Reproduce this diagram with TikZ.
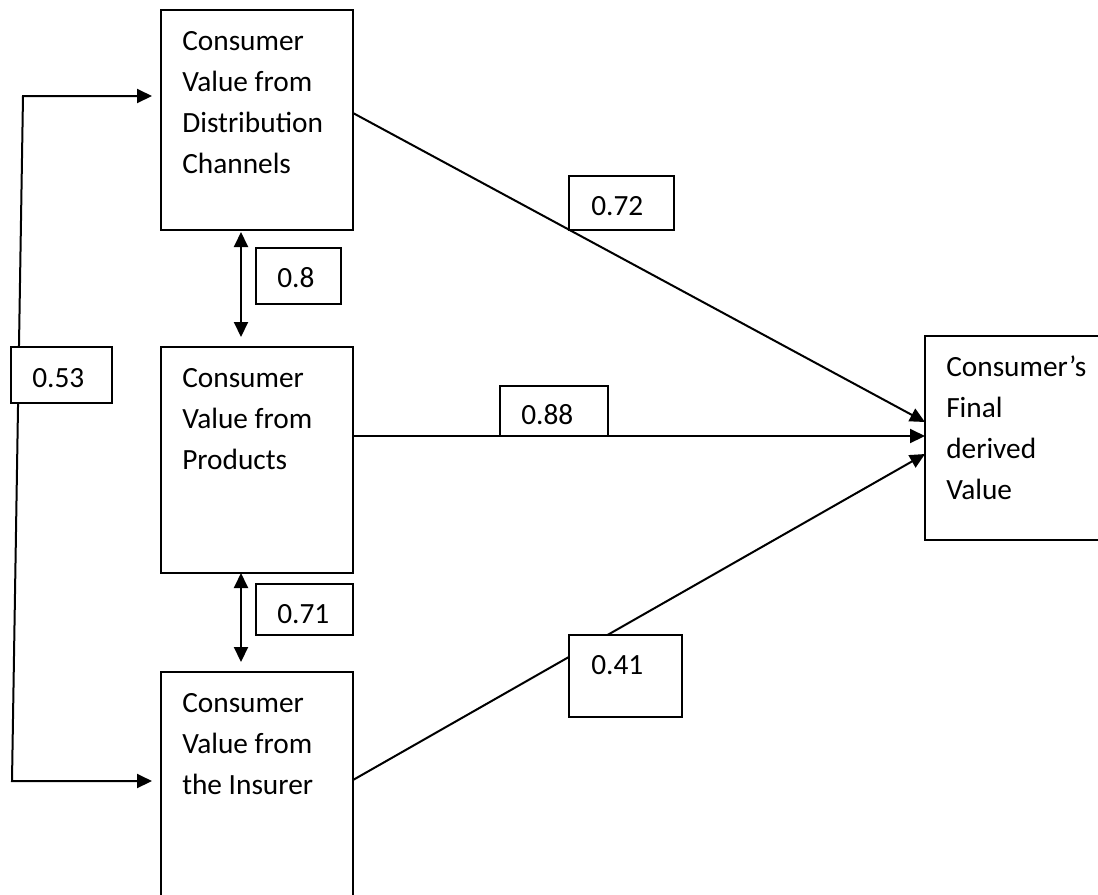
\documentclass[tikz,border=0pt]{standalone}
\usepackage{fontspec}
\setmainfont{Carlito}
\usetikzlibrary{arrows.meta,calc}
\begin{document}
\begin{tikzpicture}[x=0.75pt,y=-0.75pt,
  box/.style={draw,line width=1.5pt,rectangle,anchor=north west,inner sep=0pt,outer sep=0pt,fill=white},
  txt/.style={anchor=base west,inner sep=0pt,align=left,font=\fontsize{22pt}{30.75pt}\selectfont},
  conn/.style={line width=1.5pt},
  tip/.tip={Triangle[length=11.25pt,width=10.5pt]}
  ]
\useasboundingbox (0,0) rectangle (1098,894);
\begin{scope}
\clip (0,0) rectangle (1098,894);
% main boxes
\node[box,minimum width=144pt,minimum height=165pt] (b1) at (161,10) {};
\node[box,minimum width=144pt,minimum height=169.5pt] (b2) at (161,347) {};
\node[box,minimum width=144pt,minimum height=186pt] (b3) at (161,672) {};
\node[box,minimum width=138.75pt,minimum height=153pt] (b4) at (925,336) {};
% text (anchor base = baseline of the last line)
\node[txt] (t1) at (182,173) {Consumer\\Value from\\Distribution\\Channels};
\node[txt] (t2) at (182,469) {Consumer\\Value from\\Products};
\node[txt] (t3) at (182,794) {Consumer\\Value from\\the Insurer};
\node[txt] (t4) at (946,499) {Consumer’s\\Final\\derived\\Value};
% connectors
\coordinate (c1) at (23,96);
\coordinate (c2) at (12,781);
\draw[conn,tip-tip,shorten <=6.75pt,shorten >=6.75pt]
  ([yshift=-64.5pt]b1.north west) -- (c1) -- (c2) -- ([yshift=-81.75pt]b3.north west);
\draw[conn,tip-tip,shorten <=1.5pt,shorten >=7.5pt]
  ([xshift=60pt]b1.south west) -- ([xshift=60pt]b2.north west);
\draw[conn,tip-tip,shorten >=7.5pt]
  ([xshift=60pt]b2.south west) -- ([xshift=60pt]b3.north west);
\draw[conn,-tip] ([yshift=-77.25pt]b1.north east) -- ([yshift=-64.5pt]b4.north west);
\draw[conn,-tip] ([yshift=-66.75pt]b2.north east) -- ([yshift=-75pt]b4.north west);
\draw[conn,-tip] ([yshift=-81pt]b3.north east) -- ([yshift=-88.5pt]b4.north west);
% coefficient labels
\node[box,minimum width=78.75pt,minimum height=40.5pt] (l72) at (569,176) {};
\node[txt] at (591,215) {0.72};
\node[box,minimum width=63.75pt,minimum height=42pt] (l8) at (256,248) {};
\node[txt] at (277,287) {0.8};
\node[box,minimum width=75.75pt,minimum height=42pt] (l53) at (11,347) {};
\node[txt] at (32,387) {0.53};
\node[box,minimum width=81pt,minimum height=37.5pt] (l88) at (500,386) {};
\node[txt] at (521,424) {0.88};
\node[box,minimum width=72.75pt,minimum height=38.25pt] (l71) at (256,584) {};
\node[txt] at (277,623) {0.71};
\node[box,minimum width=84.75pt,minimum height=61.5pt] (l41) at (569,635) {};
\node[txt] at (591,674) {0.41};
\end{scope}
\end{tikzpicture}
\end{document}
